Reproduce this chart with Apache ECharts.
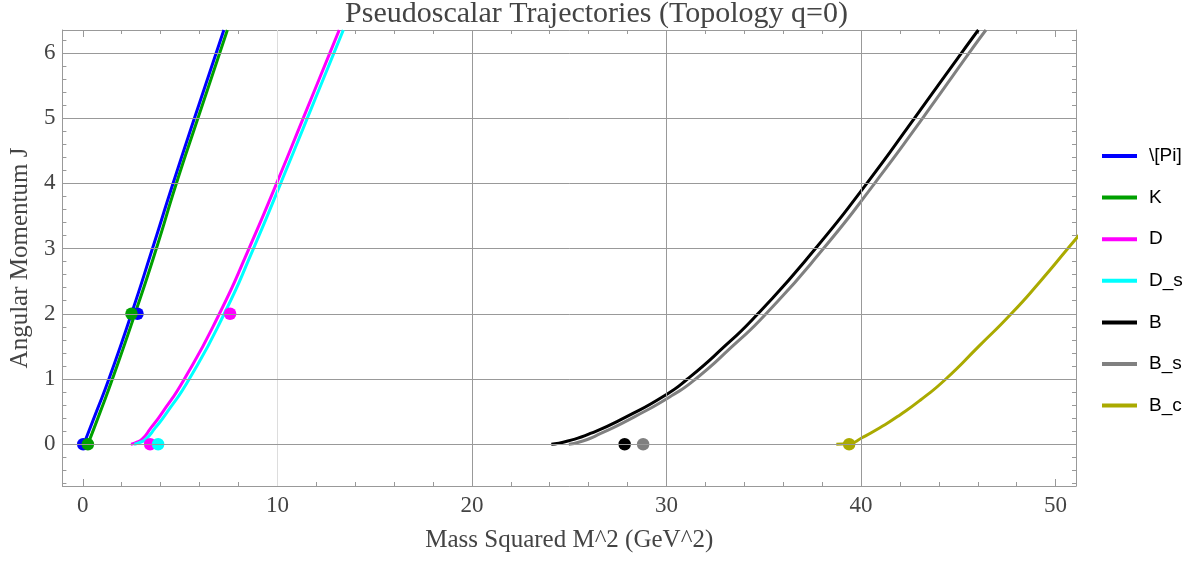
<!DOCTYPE html>
<html>
<head>
<meta charset="utf-8">
<script src="https://cdn.jsdelivr.net/npm/echarts@6/dist/echarts.min.js"></script>
<style>html,body{margin:0;padding:0;background:#fff}#c{width:1193px;height:561px}</style>
</head>
<body>
<div id="c"></div>
<script>
// ---- data ----
const seriesNames = ["\\[Pi]", "K", "D", "D_s", "B", "B_s", "B_c"];
const seriesColors = ["#0000ff", "#00a000", "#ff00ff", "#00ffff", "#000000", "#808080", "#aaaa00"];

// trajectories: [M^2, J]
const piCurve  = [[0.05,0],[0.70,0.5],[1.34,1],[2.50,2],[3.58,3],[4.64,4],[5.74,5],[6.86,6],[7.25,6.35]];
const kCurve   = [[0.26,0],[0.90,0.5],[1.52,1],[2.68,2],[3.78,3],[4.81,4],[5.92,5],[7.04,6],[7.43,6.35]];
const dCurve   = [[2.47,0],[2.70,0.02],[3.05,0.08],[3.50,0.25],[4.05,0.47],[5.22,1],[7.02,2],[8.54,3],[9.96,4],[11.33,5],[12.70,6],[13.18,6.35]];
const dsCurve  = [[2.64,0],[2.87,0.02],[3.24,0.08],[3.72,0.25],[4.28,0.47],[5.47,1],[7.27,2],[8.77,3],[10.17,4],[11.54,5],[12.91,6],[13.39,6.35]];
const bCurve   = [[24.08,0],[24.93,0.05],[26.13,0.17],[27.93,0.42],[29.93,0.75],[31.08,1],[32.98,1.5],[34.70,2],[37.66,3],[40.30,4],[42.75,5],[45.17,6],[46.03,6.35]];
const bsCurve  = [[24.98,0],[25.70,0.05],[26.65,0.17],[28.35,0.42],[30.30,0.75],[31.50,1],[33.38,1.5],[35.12,2],[38.07,3],[40.70,4],[43.17,5],[45.56,6],[46.42,6.35]];
const bcCurve  = [[38.73,0],[39.39,0.01],[40.05,0.1],[40.95,0.25],[42.00,0.45],[43.15,0.7],[44.36,1],[46.05,1.5],[47.72,2],[49.22,2.5],[50.63,3],[51.47,3.3]];

// measured states: [M^2, J]
const piPoints = [[0.02,0],[2.81,2]];
const kPoints  = [[0.26,0],[2.50,2]];
const dPoints  = [[3.46,0],[7.57,2]];
const dsPoints = [[3.87,0]];
const bPoints  = [[27.85,0]];
const bsPoints = [[28.80,0]];
const bcPoints = [[39.39,0]];

// axes
const xMin = -1.05, xMax = 51.05;
const yMin = -0.64, yMax = 6.35;
const xMajor = [0,10,20,30,40,50];
const xMinor = [2,4,6,8,12,14,16,18,22,24,26,28,32,34,36,38,42,44,46,48];
const yMajor = [0,1,2,3,4,5,6];
const yMinor = [-0.6,-0.4,-0.2,0.2,0.4,0.6,0.8,1.2,1.4,1.6,1.8,2.2,2.4,2.6,2.8,3.2,3.4,3.6,3.8,4.2,4.4,4.6,4.8,5.2,5.4,5.6,5.8,6.2];
const xGridDark = [20,30,40];
const xGridLight = [10];
const yGrid = [0,1,2,3,4,5,6];

const curves = [piCurve,kCurve,dCurve,dsCurve,bCurve,bsCurve,bcCurve];
const points = [piPoints,kPoints,dPoints,dsPoints,bPoints,bsPoints,bcPoints];

const frameColor = "#999999";
const textColor = "#444444";
const serif = "'Liberation Serif', 'Times New Roman', serif";

function xAx(pos, ticks, len, labels, showLine) {
  return {
    type: 'value', position: pos, min: xMin, max: xMax, gridIndex: 0,
    axisLine: {show: showLine, onZero: false, lineStyle: {color: frameColor, width: 1}},
    axisTick: {show: true, inside: true, length: len, customValues: ticks, lineStyle: {color: frameColor}},
    axisLabel: labels ? {show: true, customValues: xMajor, color: textColor, fontFamily: serif, fontSize: 23, margin: 8} : {show: false},
    splitLine: {show: false}
  };
}
function yAx(pos, ticks, len, labels, showLine) {
  return {
    type: 'value', position: pos, min: yMin, max: yMax, gridIndex: 0,
    axisLine: {show: showLine, onZero: false, lineStyle: {color: frameColor, width: 1}},
    axisTick: {show: true, inside: true, length: len, customValues: ticks, lineStyle: {color: frameColor}},
    axisLabel: labels ? {show: true, customValues: yMajor, color: textColor, fontFamily: serif, fontSize: 23, margin: 7} : {show: false},
    splitLine: {show: false}
  };
}

const xAxes = [xAx('bottom', xMajor, 7, true, true), xAx('bottom', xMinor, 4, false, false),
               xAx('top', xMajor, 7, false, true), xAx('top', xMinor, 4, false, false)];
xAxes[0].name = 'Mass Squared M^2 (GeV^2)';
xAxes[0].nameLocation = 'middle';
xAxes[0].nameGap = 42;
xAxes[0].nameTextStyle = {color: textColor, fontFamily: serif, fontSize: 25};

const yAxes = [yAx('left', yMajor, 7, true, true), yAx('left', yMinor, 4, false, false),
               yAx('right', yMajor, 7, false, true), yAx('right', yMinor, 4, false, false)];
yAxes[0].name = 'Angular Momentum J';
yAxes[0].nameLocation = 'middle';
yAxes[0].nameGap = 25;
yAxes[0].nameTextStyle = {color: textColor, fontFamily: serif, fontSize: 25};

const gridMarks = [];
xGridLight.forEach(v => gridMarks.push({xAxis: v, lineStyle: {color: '#dddddd', width: 1, type: 'solid'}}));
xGridDark.forEach(v => gridMarks.push({xAxis: v, lineStyle: {color: '#999999', width: 1, type: 'solid'}}));
yGrid.forEach(v => gridMarks.push({yAxis: v, lineStyle: {color: '#999999', width: 1, type: 'solid'}}));

const series = [{
  type: 'line', name: 'grid', data: [], xAxisIndex: 0, yAxisIndex: 0, silent: true, z: 1,
  markLine: {silent: true, symbol: 'none', label: {show: false}, animation: false, data: gridMarks}
}];
curves.forEach((c, i) => series.push({
  type: 'line', name: seriesNames[i], data: c, xAxisIndex: 0, yAxisIndex: 0,
  smooth: 0.6, showSymbol: false, symbol: 'none', clip: true, z: 3,
  lineStyle: {color: seriesColors[i], width: 3}, itemStyle: {color: seriesColors[i]}
}));
points.forEach((p, i) => series.push({
  type: 'scatter', name: seriesNames[i] + '_pts', data: p, xAxisIndex: 0, yAxisIndex: 0,
  symbol: 'circle', symbolSize: 12.5, z: 4, itemStyle: {color: seriesColors[i], opacity: 1}
}));

const chart = echarts.init(document.getElementById('c'), null, {renderer: 'canvas'});
chart.setOption({
  animation: false,
  backgroundColor: '#ffffff',
  title: {text: 'Pseudoscalar Trajectories (Topology q=0)', left: 'center', top: -6,
          textStyle: {color: textColor, fontFamily: serif, fontSize: 30, fontWeight: 'normal'}},
  grid: {left: 61, top: 30, width: 1015, height: 456, containLabel: false},
  legend: {
    data: seriesNames, orient: 'vertical', left: 1097, top: 141, icon: 'rect',
    itemWidth: 35, itemHeight: 4, itemGap: 21.6,
    textStyle: {color: '#000', fontFamily: "'Liberation Sans', Arial, sans-serif", fontSize: 19, lineHeight: 20, padding: [0,0,0,7]}
  },
  xAxis: xAxes,
  yAxis: yAxes,
  series: series
});
</script>
</body>
</html>
